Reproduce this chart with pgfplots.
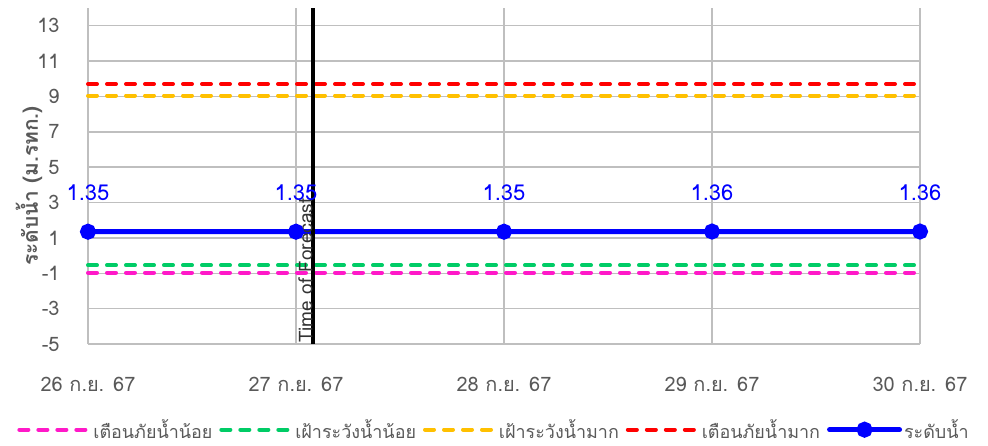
\documentclass[border=0pt]{standalone}
\usepackage{fontspec}
\setmainfont{Loma}[Script=Thai]
\usepackage{pgfplots}
\pgfplotsset{compat=1.18}
\definecolor{tgray}{HTML}{595959}
\definecolor{grid}{HTML}{D9D9D9}
\definecolor{cmag}{HTML}{FF19C8}
\definecolor{cgreen}{HTML}{00CC66}
\definecolor{cyellow}{HTML}{FFC000}
\definecolor{cred}{HTML}{FF0000}
\definecolor{cblue}{HTML}{0000FF}
\begin{document}
\begin{tikzpicture}
\path[use as bounding box] (-88bp,-102bp) rectangle (900bp,344bp);
\begin{axis}[
  at={(0,0)}, anchor=south west,
  scale only axis, width=832bp, height=336bp,
  xmin=0, xmax=4, ymin=-5, ymax=14,
  xtick={0,1,2,3,4},
  xticklabels={26 ก.ย. 67,27 ก.ย. 67,28 ก.ย. 67,29 ก.ย. 67,30 ก.ย. 67},
  ytick={-5,-3,...,13},
  grid=major, grid style={grid, line width=1.5bp},
  axis line style={draw=none},
  major tick length=0pt,
  /pgf/number format/assume math mode=true,
  tick label style={font=\fontsize{20}{24}\selectfont, text=tgray},
  yticklabel style={xshift=-25bp},
  xticklabel style={yshift=-30bp},
  legend style={at={(0.488,-0.255)}, anchor=center, draw=none, fill=none,
    legend columns=-1, font=\fontsize{18}{22}\selectfont, text=tgray,
    /tikz/every even column/.append style={column sep=5bp},
    inner sep=0pt},
  legend image code/.code={\draw[mark repeat=2,mark phase=2,#1] plot coordinates {(0bp,0bp) (35bp,0bp) (70bp,0bp)};},
  every axis plot/.append style={line cap=round},
  clip=false,
]
\addplot[cmag, line width=4bp, dash pattern=on 9bp off 10bp] coordinates {(0,-0.97) (4,-0.97)};
\addlegendentry{เตือนภัยน้ำน้อย}
\addplot[cgreen, line width=4bp, dash pattern=on 9bp off 10bp] coordinates {(0,-0.55) (4,-0.55)};
\addlegendentry{เฝ้าระวังน้ำน้อย}
\addplot[cyellow, line width=4bp, dash pattern=on 9bp off 10bp] coordinates {(0,9.05) (4,9.05)};
\addlegendentry{เฝ้าระวังน้ำมาก}
\addplot[cred, line width=4bp, dash pattern=on 9bp off 10bp] coordinates {(0,9.7) (4,9.7)};
\addlegendentry{เตือนภัยน้ำมาก}
\addplot[cblue, line width=5bp, mark=*, mark size=5.5bp, mark options={solid, draw=none, fill=cblue},
  nodes near coords, point meta=explicit symbolic,
  every node near coord/.style={anchor=base, yshift=31bp, font=\fontsize{22}{26}\selectfont, text=cblue}]
  coordinates {(0,1.35)[1.35] (1,1.35)[1.35] (2,1.35)[1.35] (3,1.36)[1.36] (4,1.36)[1.36]};
\addlegendentry{ระดับน้ำ}
\addplot[black, line width=4bp, forget plot, line cap=butt] coordinates {(1.08,-5) (1.08,14)};
\node[rotate=90, anchor=south west, inner sep=0pt, text=black!80, font=\fontsize{19}{22}\selectfont, xshift=1bp] at (axis cs:1.08,-5) {Time of Forecast};
\end{axis}
\node[rotate=90, anchor=base, inner sep=0pt, text=tgray, font=\bfseries\fontsize{21}{25}\selectfont] at (-50bp,158bp) {ระดับน้ำ (ม.รทก.)};
\end{tikzpicture}
\end{document}
